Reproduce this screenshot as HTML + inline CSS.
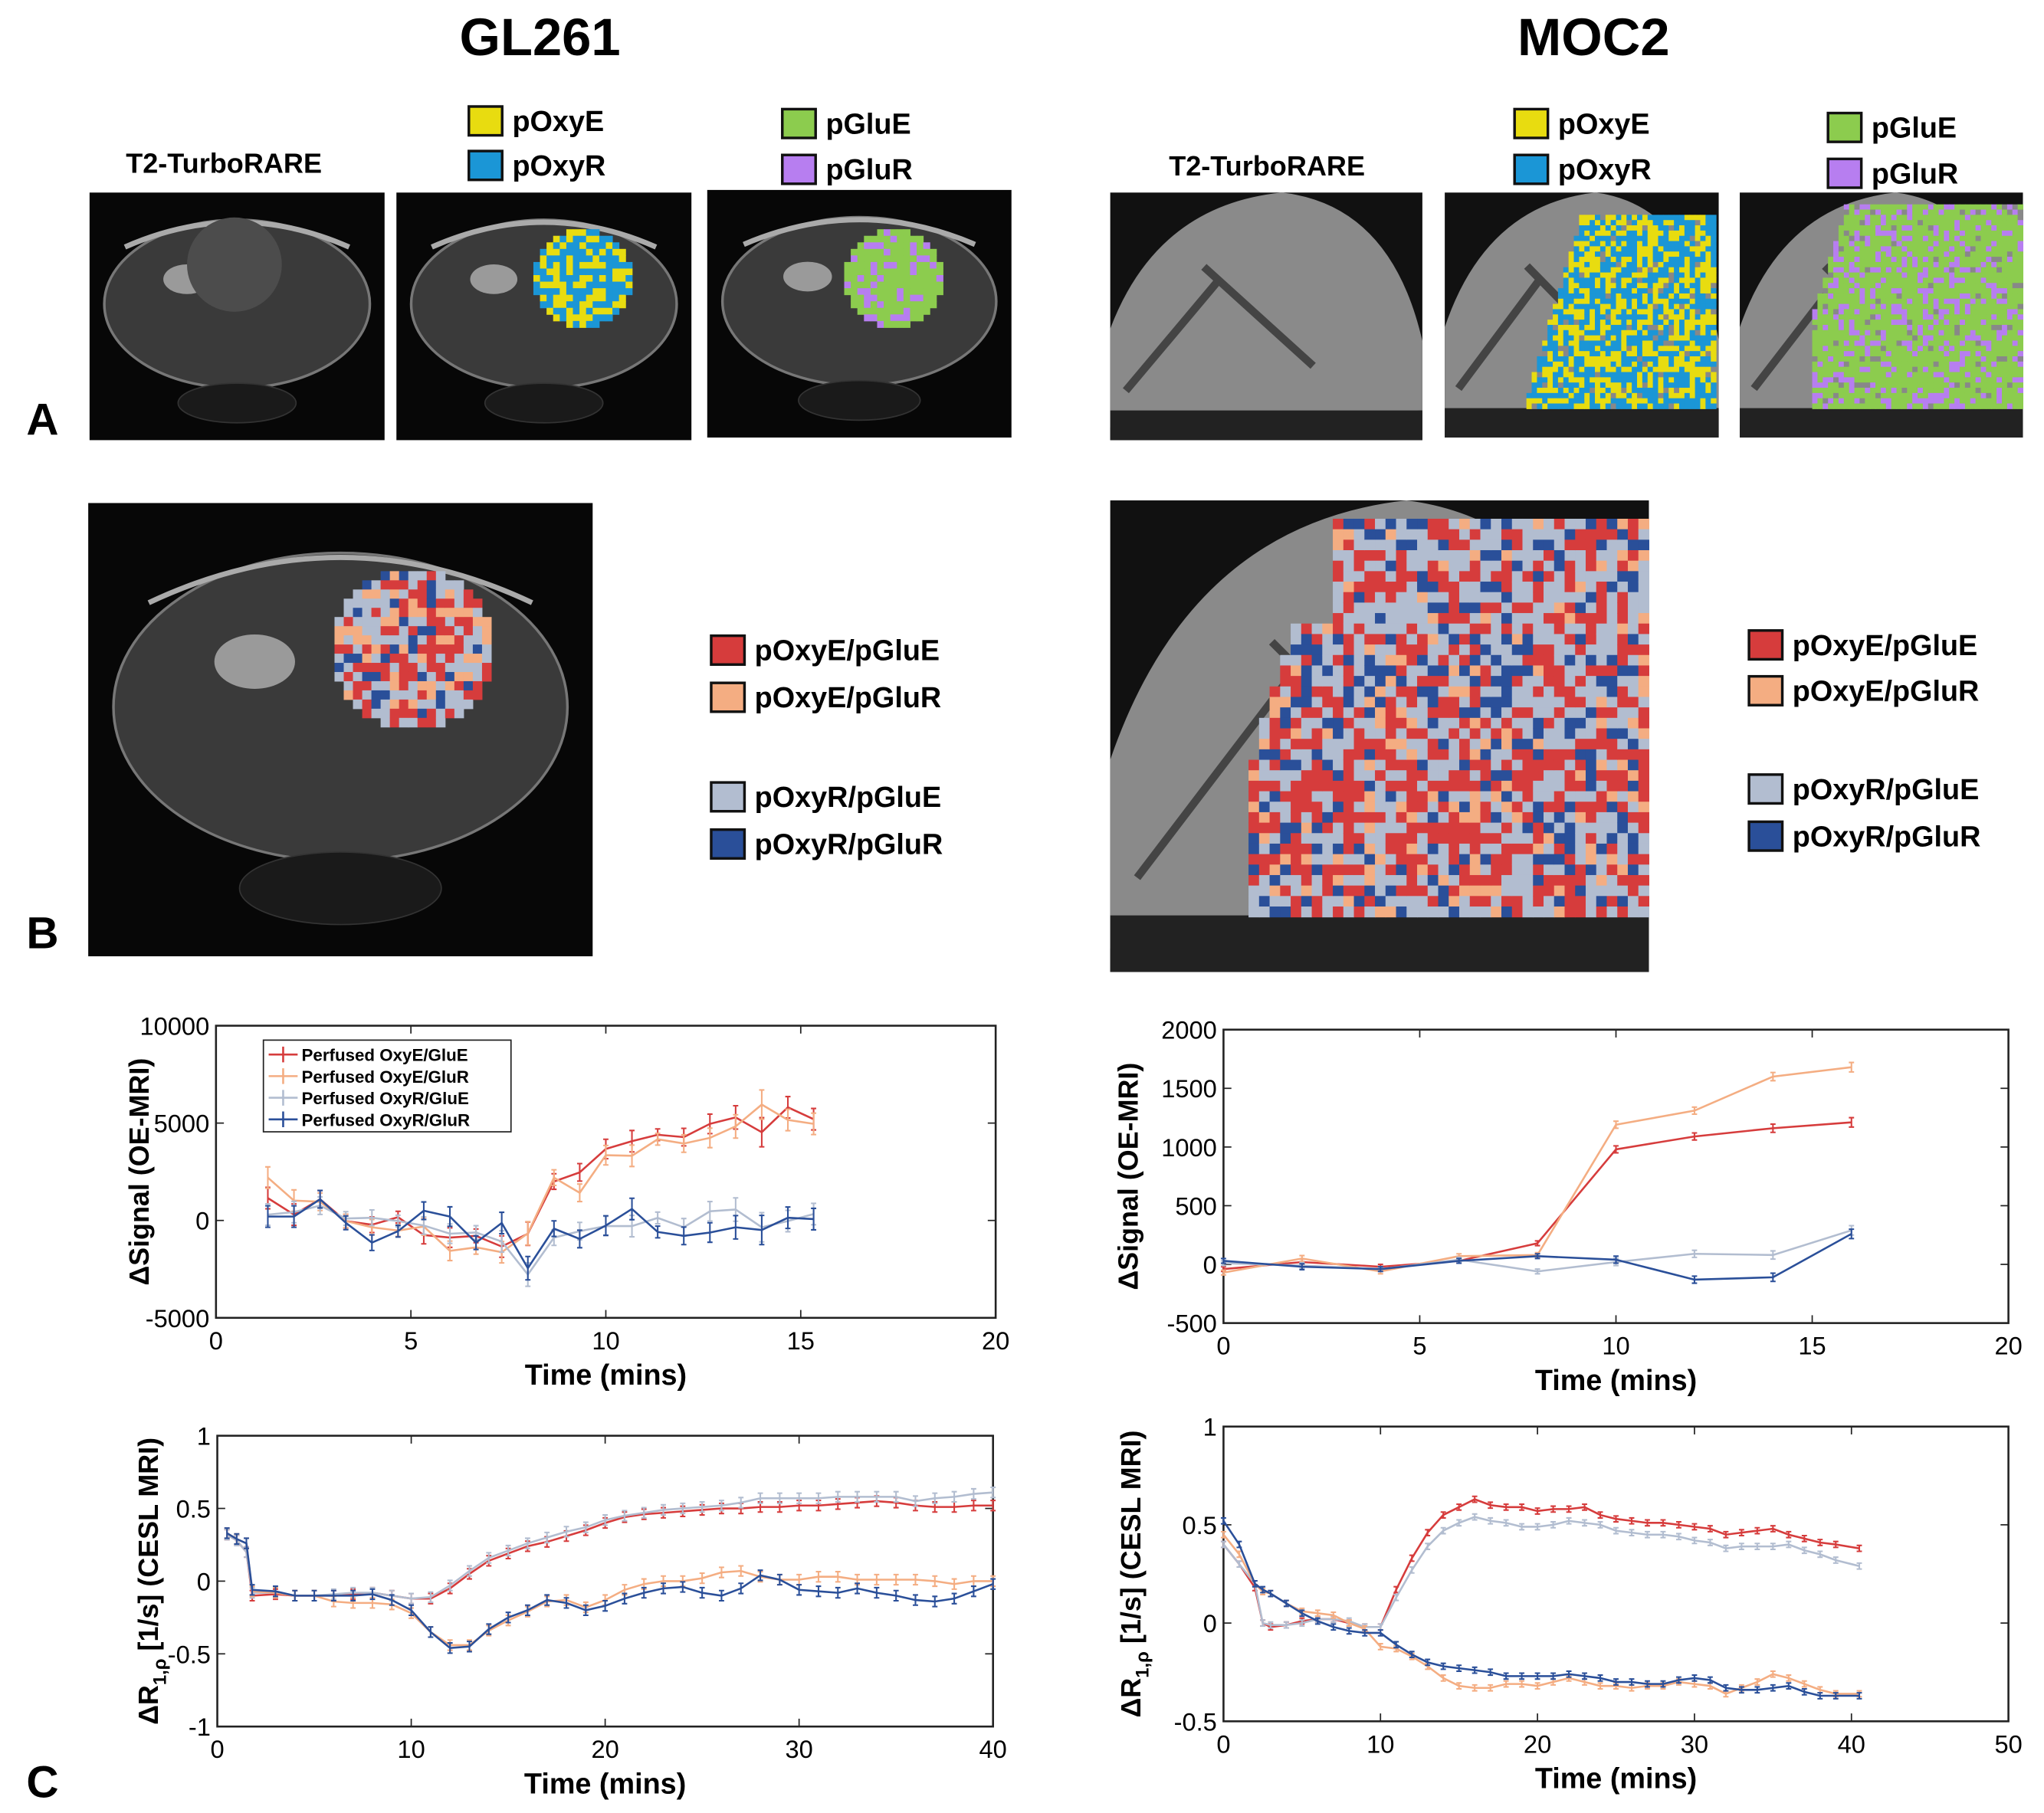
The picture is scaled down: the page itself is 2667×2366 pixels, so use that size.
<!DOCTYPE html>
<html><head><meta charset="utf-8"><style>
html,body{margin:0;padding:0;background:#fff;}
svg{display:block;font-family:"Liberation Sans",sans-serif;}
</style></head><body>
<svg id="fig" width="2667" height="2366" viewBox="0 0 1552 1384" preserveAspectRatio="none" xmlns="http://www.w3.org/2000/svg">
<g id="imgs"></g><g id="charts"></g>
<text x="410" y="42" font-size="40" font-weight="bold" text-anchor="middle">GL261</text>
<text x="1210" y="42" font-size="40" font-weight="bold" text-anchor="middle">MOC2</text>
<text x="20" y="332" font-size="34" font-weight="bold">A</text>
<text x="20" y="724" font-size="34" font-weight="bold">B</text>
<text x="20" y="1372" font-size="34" font-weight="bold">C</text>
<text x="170" y="132" font-size="21" font-weight="bold" text-anchor="middle">T2-TurboRARE</text>
<text x="962" y="134" font-size="21" font-weight="bold" text-anchor="middle">T2-TurboRARE</text>
<g id="legs"></g>
</svg>
<script>
const NS="http://www.w3.org/2000/svg";
function mk(p,t,a){const e=document.createElementNS(NS,t);for(const k in a)e.setAttribute(k,a[k]);p.appendChild(e);return e;}
const C={red:"#d63c3c",pea:"#f4ad82",lb:"#b2bdd0",nv:"#2a4f99",yel:"#e8dc10",cy:"#1b96d6",gr:"#8ccc4e",pu:"#b77ef0"};
function hash(i,j,s){let h=(i*374761393+j*668265263+s*1442695041)|0;h=(h^(h>>>13))*1274126177|0;return ((h^(h>>>16))>>>0)/4294967296;}
const imgs=document.getElementById('imgs');

function brain(g,x,y,w,h){
  mk(g,'rect',{x,y,width:w,height:h,fill:'#070707'});
  mk(g,'ellipse',{cx:x+w*0.5,cy:y+h*0.45,rx:w*0.45,ry:h*0.34,fill:'#3a3a3a',stroke:'#777','stroke-width':2});
  mk(g,'path',{d:`M${x+w*0.12} ${y+h*0.22} Q${x+w*0.5} ${y+h*0.02} ${x+w*0.88} ${y+h*0.22}`,stroke:'#aaa','stroke-width':4,fill:'none'});
  mk(g,'ellipse',{cx:x+w*0.33,cy:y+h*0.35,rx:w*0.08,ry:h*0.06,fill:'#9a9a9a'});
  mk(g,'ellipse',{cx:x+w*0.5,cy:y+h*0.85,rx:w*0.2,ry:h*0.08,fill:'#1a1a1a',stroke:'#333'});
}
function mosaic(g,cx,cy,r,s,cols,seed,shape){
  for(let i=-Math.ceil(r/s);i<=Math.ceil(r/s);i++)for(let j=-Math.ceil(r/s);j<=Math.ceil(r/s);j++){
    const px=cx+i*s,py=cy+j*s;
    if(shape?!shape(px,py):(i*i+j*j)*s*s>r*r)continue;
    const v=hash(Math.floor(i/2)*3+i,Math.floor(j/2)*5+j,seed);let k=0,acc=0;
    for(;k<cols.length-1;k++){acc+=cols[k][1];if(v<acc)break;}
    mk(g,'rect',{x:px,y:py,width:s+0.3,height:s+0.3,fill:cols[k][0]});
  }
}
function neck(g,x,y,w,h){
  mk(g,'rect',{x,y,width:w,height:h,fill:'#111'});
  mk(g,'path',{d:`M${x} ${y+h*0.95} L${x} ${y+h*0.55} Q${x+w*0.15} ${y+h*0.05} ${x+w*0.55} ${y} Q${x+w*0.9} ${y+h*0.05} ${x+w} ${y+h*0.6} L${x+w} ${y+h*0.88} Z`,fill:'#8a8a8a'});
  mk(g,'path',{d:`M${x+w*0.3} ${y+h*0.3} L${x+w*0.65} ${y+h*0.7} M${x+w*0.05} ${y+h*0.8} L${x+w*0.35} ${y+h*0.35}`,stroke:'#444','stroke-width':6});
  mk(g,'rect',{x,y:y+h*0.88,width:w,height:h*0.12,fill:'#222'});
}
let g=mk(imgs,'g',{});
brain(g,68,147,224,189);mk(g,'circle',{cx:178,cy:202,r:36,fill:'#4c4c4c'});
g=mk(imgs,'g',{});
brain(g,301,147,224,189);mosaic(g,440,210,38,5,[[C.yel,0.5],[C.cy,0.5]],1);
g=mk(imgs,'g',{});
brain(g,537,145,231,189);mosaic(g,676,210,38,5,[[C.gr,0.75],[C.pu,0.25]],2);
g=mk(imgs,'g',{});
neck(g,843,147,237,189);
g=mk(imgs,'g',{});
neck(g,1097,147,208,187);mosaic(g,1215,240,95,4,[[C.cy,0.5],[C.yel,0.42],['#888',0.08]],3,(x,y)=>y>160&&y<310&&x>1150&&x<1303&&(x-1200)>-(y-160)*0.3);
g=mk(imgs,'g',{});
neck(g,1321,147,215,187);mosaic(g,1440,240,100,4,[[C.gr,0.7],[C.pu,0.24],['#888',0.06]],4,(x,y)=>y>152&&y<312&&x>1375&&x<1535&&(x-1400)>-(y-155)*0.3);
g=mk(imgs,'g',{});
brain(g,67,384,383,346);mosaic(g,310,492,62,7,[[C.red,0.32],[C.pea,0.18],[C.lb,0.38],[C.nv,0.12]],5);
g=mk(imgs,'g',{});
neck(g,843,382,409,360);mosaic(g,1100,540,160,8,[[C.lb,0.4],[C.red,0.33],[C.nv,0.17],[C.pea,0.1]],6,(x,y)=>y>390&&y<700&&x>945&&x<1250&&(x-1000)>-(y-400)*0.3&&!(y<470&&x<1010));

const legs=document.getElementById('legs');
function leg(x,y,col,txt,name,fs){
  const gg=mk(legs,'g',{});
  mk(gg,'rect',{x,y:y-fs*0.85,width:fs*1.15,height:fs*1.0,fill:col,stroke:'#111','stroke-width':2});
  const t=mk(gg,'text',{x:x+fs*1.5,y:y,'font-size':fs,'font-weight':'bold'});t.textContent=txt;
}
leg(356,100,C.yel,'pOxyE','legend-poxye-gl',22);leg(356,134,C.cy,'pOxyR','legend-poxyr-gl',22);
leg(594,102,C.gr,'pGluE','legend-pglue-gl',22);leg(594,137,C.pu,'pGluR','legend-pglur-gl',22);
leg(1150,102,C.yel,'pOxyE','legend-poxye-moc',22);leg(1150,137,C.cy,'pOxyR','legend-poxyr-moc',22);
leg(1388,105,C.gr,'pGluE','legend-pglue-moc',22);leg(1388,140,C.pu,'pGluR','legend-pglur-moc',22);
leg(540,504,C.red,'pOxyE/pGluE','legend-red-gl',22);leg(540,540,C.pea,'pOxyE/pGluR','legend-peach-gl',22);
leg(540,616,C.lb,'pOxyR/pGluE','legend-grey-gl',22);leg(540,652,C.nv,'pOxyR/pGluR','legend-navy-gl',22);
leg(1328,500,C.red,'pOxyE/pGluE','legend-red-moc',22);leg(1328,535,C.pea,'pOxyE/pGluR','legend-peach-moc',22);
leg(1328,610,C.lb,'pOxyR/pGluE','legend-grey-moc',22);leg(1328,646,C.nv,'pOxyR/pGluR','legend-navy-moc',22);

const glOeT=[1.33,2,2.67,3.33,4,4.67,5.33,6,6.67,7.33,8,8.67,9.33,10,10.67,11.33,12,12.67,13.33,14,14.67,15.33];
const glOeRed=[1150,300,1090,-30,-220,170,-750,-880,-790,-1340,-680,2000,2470,3670,4070,4400,4280,4960,5290,4530,5810,5200];
const glOePea=[2200,1020,960,-30,-350,-520,-310,-1560,-1380,-1630,-660,2200,1420,3350,3320,4170,3950,4240,4830,5950,5160,4960];
const glOeLb=[300,430,760,100,140,-30,-260,-680,-620,-1080,-2780,-880,-550,-290,-290,130,-350,470,560,-350,-30,330];
const glOeNv=[200,200,1090,-120,-1140,-550,500,200,-1140,-130,-2450,-420,-950,-260,590,-590,-790,-620,-350,-490,140,70];
const glOeErr=[550,550,450,350,400,300,450,500,350,550,600,400,450,500,550,300,450,500,600,750,550,550];

const mocOeT=[0,2,4,6,8,10,12,14,16];
const mocOeRed=[-40,20,-20,30,180,980,1090,1160,1210];
const mocOePea=[-70,50,-60,70,80,1190,1310,1600,1680];
const mocOeLb=[10,-10,-40,40,-60,20,90,80,290];
const mocOeNv=[30,-20,-40,30,70,40,-130,-110,260];
const mocOeErr=[20,25,20,20,20,30,30,35,40];

const glClT=[0.5,1,1.5,1.8,3,4,5,6,7,8,9,10,11,12,13,14,15,16,17,18,19,20,21,22,23,24,25,26,27,28,29,30,31,32,33,34,35,36,37,38,39,40];
const glClRed=[0.32,0.28,0.2,-0.1,-0.09,-0.1,-0.1,-0.1,-0.09,-0.08,-0.1,-0.12,-0.12,-0.05,0.05,0.14,0.19,0.24,0.27,0.31,0.35,0.4,0.44,0.46,0.47,0.48,0.49,0.5,0.5,0.51,0.51,0.52,0.52,0.53,0.54,0.55,0.54,0.52,0.51,0.51,0.52,0.52];
const glClLb=[0.32,0.28,0.2,-0.08,-0.08,-0.1,-0.1,-0.09,-0.08,-0.08,-0.1,-0.12,-0.11,-0.03,0.07,0.16,0.21,0.26,0.3,0.34,0.37,0.42,0.45,0.47,0.49,0.5,0.51,0.52,0.54,0.57,0.57,0.57,0.57,0.58,0.58,0.58,0.58,0.55,0.57,0.58,0.6,0.61];
const glClPea=[0.33,0.29,0.26,-0.07,-0.08,-0.1,-0.1,-0.14,-0.15,-0.15,-0.16,-0.22,-0.35,-0.44,-0.44,-0.34,-0.27,-0.21,-0.14,-0.13,-0.18,-0.13,-0.06,-0.02,0.0,0.0,0.02,0.06,0.07,0.03,0.01,0.01,0.03,0.03,0.01,0.01,0.01,0.01,0.0,-0.02,0.0,0.0];
const glClNv=[0.33,0.29,0.26,-0.06,-0.07,-0.1,-0.1,-0.1,-0.1,-0.09,-0.13,-0.2,-0.35,-0.46,-0.45,-0.33,-0.25,-0.2,-0.13,-0.15,-0.2,-0.17,-0.12,-0.08,-0.05,-0.04,-0.08,-0.1,-0.05,0.04,0.01,-0.06,-0.07,-0.08,-0.05,-0.08,-0.1,-0.13,-0.14,-0.12,-0.07,-0.02];

const mocClT=[0,1,2,2.5,3,4,5,6,7,8,9,10,11,12,13,14,15,16,17,18,19,20,21,22,23,24,25,26,27,28,29,30,31,32,33,34,35,36,37,38,39,40.5];
const mocClRed=[0.4,0.3,0.18,0.0,-0.02,-0.01,0.01,0.02,0.02,0.0,-0.02,-0.02,0.17,0.33,0.46,0.55,0.59,0.63,0.6,0.59,0.59,0.57,0.58,0.58,0.59,0.55,0.53,0.52,0.51,0.51,0.5,0.49,0.48,0.45,0.46,0.47,0.48,0.45,0.43,0.41,0.4,0.38];
const mocClLb=[0.4,0.3,0.2,0.0,-0.01,-0.01,0.0,0.02,0.02,0.01,-0.02,-0.02,0.13,0.27,0.39,0.47,0.51,0.54,0.52,0.51,0.49,0.49,0.5,0.52,0.51,0.5,0.47,0.46,0.45,0.45,0.44,0.42,0.41,0.38,0.39,0.39,0.39,0.4,0.37,0.35,0.32,0.29];
const mocClPea=[0.45,0.35,0.2,0.16,0.15,0.1,0.06,0.05,0.04,0.0,-0.03,-0.12,-0.13,-0.17,-0.22,-0.28,-0.32,-0.33,-0.33,-0.31,-0.31,-0.32,-0.3,-0.28,-0.3,-0.32,-0.32,-0.33,-0.32,-0.32,-0.3,-0.31,-0.32,-0.36,-0.33,-0.3,-0.26,-0.28,-0.31,-0.34,-0.36,-0.36];
const mocClNv=[0.52,0.4,0.2,0.17,0.15,0.1,0.05,0.01,-0.02,-0.04,-0.05,-0.05,-0.11,-0.16,-0.2,-0.22,-0.23,-0.24,-0.25,-0.27,-0.27,-0.27,-0.27,-0.26,-0.27,-0.28,-0.3,-0.3,-0.31,-0.31,-0.29,-0.28,-0.29,-0.33,-0.34,-0.34,-0.33,-0.32,-0.35,-0.37,-0.37,-0.37];

const glOeXTicks=[0,5,10,15,20],glOeYTicks=[-5000,0,5000,10000];
const mocOeXTicks=[0,5,10,15,20],mocOeYTicks=[-500,0,500,1000,1500,2000];
const glClXTicks=[0,10,20,30,40],glClYTicks=[-1,-0.5,0,0.5,1];
const mocClXTicks=[0,10,20,30,40,50],mocClYTicks=[-0.5,0,0.5,1];

const charts=document.getElementById('charts');
function chart(o){
  const G=mk(charts,'g',{});
  const sx=v=>o.x0+(v-o.xmin)/(o.xmax-o.xmin)*(o.x1-o.x0);
  const sy=v=>o.y1-(v-o.ymin)/(o.ymax-o.ymin)*(o.y1-o.y0);
  mk(G,'rect',{x:o.x0,y:o.y0,width:o.x1-o.x0,height:o.y1-o.y0,fill:'#fff',stroke:'#222','stroke-width':1.5});
  o.xt.forEach(v=>{const x=sx(v);mk(G,'line',{x1:x,x2:x,y1:o.y1,y2:o.y1-6,stroke:'#222'});mk(G,'line',{x1:x,x2:x,y1:o.y0,y2:o.y0+6,stroke:'#222'});
    const t=mk(G,'text',{x,y:o.y1+24,'font-size':19,'text-anchor':'middle'});t.textContent=v;});
  o.yt.forEach(v=>{const y=sy(v);mk(G,'line',{x1:o.x0,x2:o.x0+6,y1:y,y2:y,stroke:'#222'});mk(G,'line',{x1:o.x1,x2:o.x1-6,y1:y,y2:y,stroke:'#222'});
    const t=mk(G,'text',{x:o.x0-5,y:y+7,'font-size':19,'text-anchor':'end'});t.textContent=v;});
  let t=mk(G,'text',{x:(o.x0+o.x1)/2,y:o.y1+51,'font-size':22,'font-weight':'bold','text-anchor':'middle'});t.textContent='Time (mins)';
  
  t=mk(G,'text',{transform:`translate(${o.ylx},${(o.y0+o.y1)/2}) rotate(-90)`,'font-size':21,'font-weight':'bold','text-anchor':'middle'});
  t.innerHTML=o.ylab;
  o.series.forEach(s=>{
    const sg=mk(G,'g',{});
    const e=Array.isArray(o.err)?o.err:null;
    o.t.forEach((tv,i)=>{const x=sx(tv),er=e?e[i]:o.err,y0=sy(s.v[i]-er),y1=sy(s.v[i]+er);
      mk(sg,'path',{d:`M${x} ${y0}V${y1}M${x-2} ${y0}h4M${x-2} ${y1}h4`,stroke:s.c,'stroke-width':1.2,fill:'none'});});
    mk(sg,'polyline',{points:o.t.map((tv,i)=>sx(tv)+','+sy(s.v[i])).join(' '),stroke:s.c,'stroke-width':1.5,fill:'none'});
  });
  return G;
}
const g1=chart({name:'gl261-oe-chart',x0:164,x1:756,y0:783,y1:1006,xmin:0,xmax:20,ymin:-5000,ymax:10000,xt:glOeXTicks,yt:glOeYTicks,
  t:glOeT,err:glOeErr,ylx:113,ylab:'ΔSignal (OE-MRI)',
  series:[{name:'series-oxye-glue',c:C.red,v:glOeRed},{name:'series-oxye-glur',c:C.pea,v:glOePea},{name:'series-oxyr-glue',c:C.lb,v:glOeLb},{name:'series-oxyr-glur',c:C.nv,v:glOeNv}]});
const lg=mk(g1,'g',{});
mk(lg,'rect',{x:200,y:794,width:188,height:70,fill:'#fff',stroke:'#222'});
[['Perfused OxyE/GluE',C.red],['Perfused OxyE/GluR',C.pea],['Perfused OxyR/GluE',C.lb],['Perfused OxyR/GluR',C.nv]].forEach((d,i)=>{
  const y=805+i*16.5;const e=mk(lg,'g',{});
  mk(e,'path',{d:`M204 ${y}h22M215 ${y-6}v12`,stroke:d[1],'stroke-width':1.5});
  const t=mk(e,'text',{x:229,y:y+5,'font-size':13,'font-weight':'bold'});t.textContent=d[0];});
chart({name:'moc2-oe-chart',x0:929,x1:1525,y0:786,y1:1010,xmin:0,xmax:20,ymin:-500,ymax:2000,xt:mocOeXTicks,yt:mocOeYTicks,
  t:mocOeT,err:mocOeErr,ylx:864,ylab:'ΔSignal (OE-MRI)',
  series:[{name:'series-oxye-glue',c:C.red,v:mocOeRed},{name:'series-oxye-glur',c:C.pea,v:mocOePea},{name:'series-oxyr-glue',c:C.lb,v:mocOeLb},{name:'series-oxyr-glur',c:C.nv,v:mocOeNv}]});
const rl='ΔR<tspan font-size="14" dy="6">1,ρ</tspan><tspan dy="-6"> [1/s] (CESL MRI)</tspan>';
chart({name:'gl261-cesl-chart',x0:165,x1:754,y0:1096,y1:1318,xmin:0,xmax:40,ymin:-1,ymax:1,xt:glClXTicks,yt:glClYTicks,
  t:glClT,err:0.035,ylx:120,ylab:rl,
  series:[{name:'series-oxye-glue',c:C.red,v:glClRed},{name:'series-oxyr-glue',c:C.lb,v:glClLb},{name:'series-oxye-glur',c:C.pea,v:glClPea},{name:'series-oxyr-glur',c:C.nv,v:glClNv}]});
chart({name:'moc2-cesl-chart',x0:929,x1:1525,y0:1089,y1:1314,xmin:0,xmax:50,ymin:-0.5,ymax:1,xt:mocClXTicks,yt:mocClYTicks,
  t:mocClT,err:0.015,ylx:866,ylab:rl,
  series:[{name:'series-oxye-glue',c:C.red,v:mocClRed},{name:'series-oxyr-glue',c:C.lb,v:mocClLb},{name:'series-oxye-glur',c:C.pea,v:mocClPea},{name:'series-oxyr-glur',c:C.nv,v:mocClNv}]});
</script>
</body></html>
